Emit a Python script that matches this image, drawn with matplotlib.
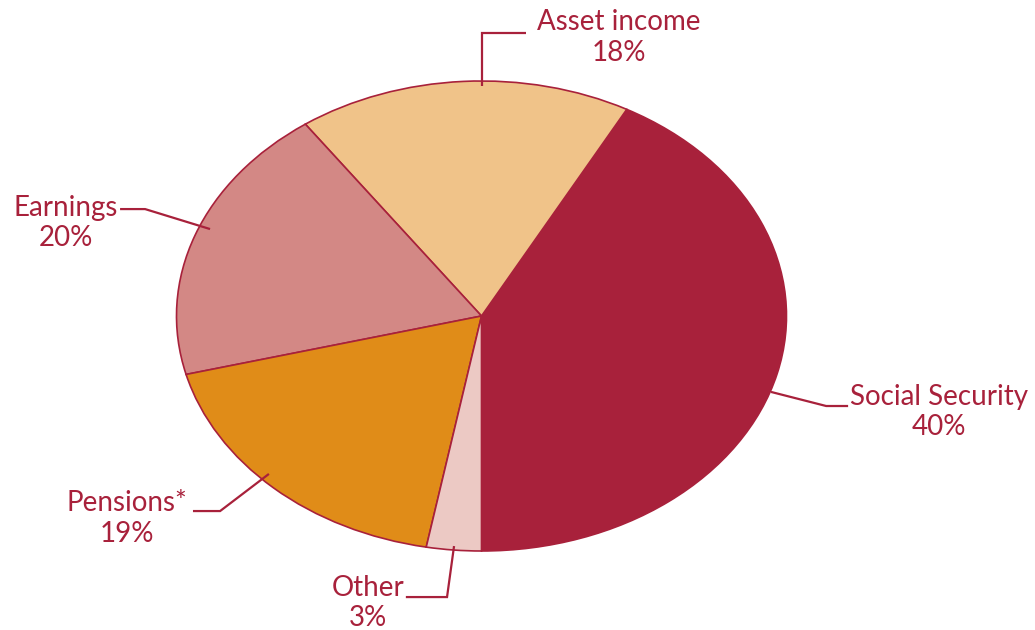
import matplotlib.pyplot as plt

# shares as drawn (wedge sizes), labels as printed
categories = ["Social Security", "Asset income", "Earnings", "Pensions*", "Other"]
shares = [42.1, 17.7, 19.2, 18.1, 2.9]
pct_labels = ["40%", "18%", "20%", "19%", "3%"]
colors = ["#A8213B", "#F0C389", "#D38885", "#E08C18", "#ECC9C4"]

text_color = "#A8213B"

# label layout in data units (unit radius ellipse), leader path: anchor -> elbow -> end
label_pos = {
    "Social Security": (1.500, -0.408),
    "Asset income": (0.451, 1.185),
    "Earnings": (-1.362, 0.396),
    "Pensions*": (-1.162, -0.862),
    "Other": (-0.372, -1.221),
}
leaders = {
    "Social Security": [(0.949, -0.323), (1.130, -0.383), (1.202, -0.383)],
    "Asset income": [(0.002, 0.979), (0.002, 1.204), (0.146, 1.204)],
    "Earnings": [(-0.890, 0.370), (-1.103, 0.455), (-1.185, 0.455)],
    "Pensions*": [(-0.697, -0.672), (-0.857, -0.830), (-0.946, -0.830)],
    "Other": [(-0.090, -0.979), (-0.113, -1.196), (-0.248, -1.196)],
}

fig = plt.figure(figsize=(10.35, 6.3), dpi=100)
ax = fig.add_axes([0, 0, 1, 1])

ax.pie(shares, colors=colors, startangle=270, counterclock=True,
       wedgeprops=dict(edgecolor=text_color, linewidth=1.2))
ax.set_aspect('auto')

# stretch the pie horizontally: radius 1 -> 305 px wide, 235 px tall
ax.set_xlim(-481.5 / 305, (1035 - 481.5) / 305)
ax.set_ylim(-(630 - 316) / 235, 316 / 235)
ax.axis('off')

for name, pct in zip(categories, pct_labels):
    pts = leaders[name]
    ax.plot([p[0] for p in pts], [p[1] for p in pts], color=text_color, lw=1.6,
            solid_capstyle='butt', solid_joinstyle='miter')
    x, y = label_pos[name]
    ax.text(x, y, f"{name}\n{pct}", ha='center', va='center', fontsize=20,
            family='Lato', color=text_color, linespacing=1.2)

fig.savefig("out.png", dpi=100)
